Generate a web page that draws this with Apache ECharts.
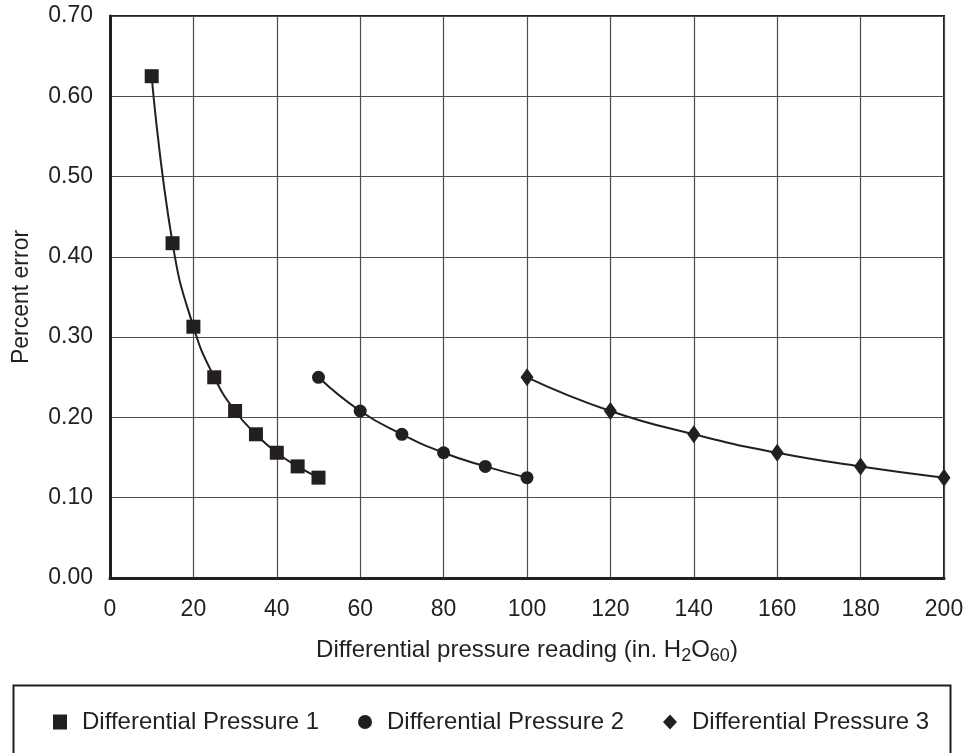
<!DOCTYPE html>
<html>
<head>
<meta charset="utf-8">
<script src="https://cdn.jsdelivr.net/npm/echarts@6/dist/echarts.min.js"></script>
<style>
html,body{margin:0;padding:0;background:#fff;}
#c{width:970px;height:753px;}
</style>
</head>
<body>
<div id="c"></div>
<script>
var seriesNames = ['Differential Pressure 1', 'Differential Pressure 2', 'Differential Pressure 3'];
var dp1X = [10, 15, 20, 25, 30, 35, 40, 45, 50];
var dp1Y = [0.625, 0.417, 0.313, 0.250, 0.208, 0.179, 0.156, 0.139, 0.125];
var dp2X = [50, 60, 70, 80, 90, 100];
var dp2Y = [0.250, 0.208, 0.179, 0.156, 0.139, 0.125];
var dp3X = [100, 120, 140, 160, 180, 200];
var dp3Y = [0.250, 0.208, 0.179, 0.156, 0.139, 0.125];

function pairs(xs, ys) { return xs.map(function (x, i) { return [x, ys[i]]; }); }

var ink = '#231f20';
var font = 'Liberation Sans, Arial, Helvetica, sans-serif';
var chart = echarts.init(document.getElementById('c'), null, {renderer: 'canvas'});

function mkSeries(name, data, symbol, size) {
  return {
    name: name, type: 'line', data: data,
    smooth: 0.5,
    symbol: symbol, symbolSize: size, showAllSymbol: true,
    lineStyle: {color: ink, width: 2},
    itemStyle: {color: ink, opacity: 1},
    emphasis: {disabled: true},
    animation: false, z: 3
  };
}

chart.setOption({
  animation: false,
  backgroundColor: '#fff',
  textStyle: {fontFamily: font, color: ink},
  grid: {left: 110, right: 26, top: 16, bottom: 175, show: true, borderColor: ink, borderWidth: 2, containLabel: false},
  xAxis: {
    type: 'value', min: 0, max: 200, interval: 20,
    name: 'Differential pressure reading (in. H{sub|2}O{sub|60})',
    nameLocation: 'middle', nameGap: 57,
    nameTextStyle: {fontFamily: font, fontSize: 24, color: ink,
      rich: {sub: {fontFamily: font, fontSize: 18, color: ink, padding: [12, 0, 0, 0]}}},
    axisLine: {show: true, onZero: false, lineStyle: {color: ink, width: 3}},
    axisTick: {show: false},
    axisLabel: {fontFamily: font, fontSize: 23, color: ink, margin: 20},
    splitLine: {show: true, lineStyle: {color: '#4d4d4d', width: 1.2}}
  },
  yAxis: {
    type: 'value', min: 0, max: 0.7, interval: 0.1,
    name: 'Percent error', nameLocation: 'middle', nameGap: 77,
    nameTextStyle: {fontFamily: font, fontSize: 23, color: ink},
    axisLine: {show: true, onZero: false, lineStyle: {color: ink, width: 3}},
    axisTick: {show: false},
    axisLabel: {fontFamily: font, fontSize: 23, color: ink, margin: 17,
      formatter: function (v) { return v.toFixed(2); }},
    splitLine: {show: true, lineStyle: {color: '#4d4d4d', width: 1.2}}
  },
  legend: {
    show: true, left: 48, top: 705, itemGap: 39,
    itemWidth: 14, itemHeight: 15,
    textStyle: {fontFamily: font, fontSize: 24, color: ink, padding: [0, 0, 0, 10]},
    data: [
      {name: seriesNames[0], icon: 'rect'},
      {name: seriesNames[1], icon: 'circle'},
      {name: seriesNames[2], icon: 'diamond'}
    ],
    selectedMode: false
  },
  graphic: [{
    type: 'rect', left: 11, top: 683, silent: true,
    shape: {width: 937, height: 80},
    style: {fill: 'none', stroke: ink, lineWidth: 2}
  }],
  series: [
    mkSeries(seriesNames[0], pairs(dp1X, dp1Y), 'rect', 14),
    mkSeries(seriesNames[1], pairs(dp2X, dp2Y), 'circle', 13),
    mkSeries(seriesNames[2], pairs(dp3X, dp3Y), 'diamond', [13, 18])
  ]
});
</script>
</body>
</html>
